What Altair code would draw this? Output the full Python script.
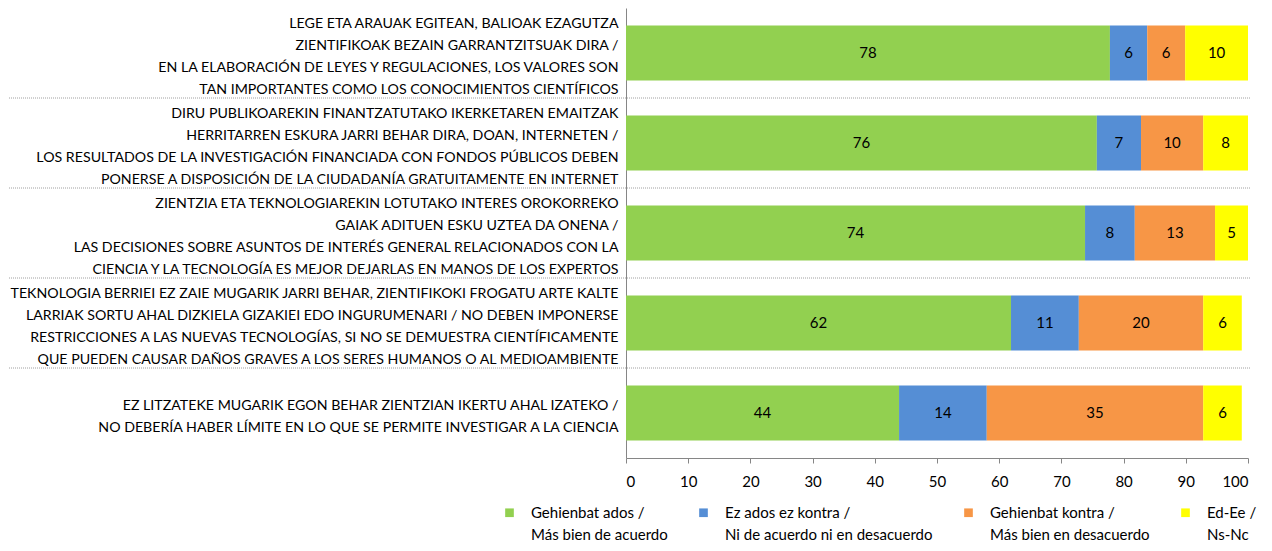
import altair as alt
import pandas as pd

statements = [
    ["LEGE ETA ARAUAK EGITEAN, BALIOAK EZAGUTZA",
     "ZIENTIFIKOAK BEZAIN GARRANTZITSUAK DIRA /",
     "EN LA ELABORACIÓN DE LEYES Y REGULACIONES, LOS VALORES SON",
     "TAN IMPORTANTES COMO LOS CONOCIMIENTOS CIENTÍFICOS"],
    ["DIRU PUBLIKOAREKIN FINANTZATUTAKO IKERKETAREN EMAITZAK",
     "HERRITARREN  ESKURA JARRI BEHAR DIRA, DOAN, INTERNETEN /",
     "LOS RESULTADOS DE LA INVESTIGACIÓN FINANCIADA CON FONDOS PÚBLICOS DEBEN",
     "PONERSE A DISPOSICIÓN DE LA CIUDADANÍA GRATUITAMENTE EN INTERNET"],
    ["ZIENTZIA ETA TEKNOLOGIAREKIN LOTUTAKO INTERES OROKORREKO",
     "GAIAK ADITUEN ESKU UZTEA DA ONENA /",
     "LAS DECISIONES SOBRE ASUNTOS DE INTERÉS GENERAL RELACIONADOS CON LA",
     "CIENCIA Y LA TECNOLOGÍA ES MEJOR DEJARLAS EN MANOS DE LOS EXPERTOS"],
    ["TEKNOLOGIA BERRIEI EZ ZAIE MUGARIK JARRI BEHAR, ZIENTIFIKOKI FROGATU ARTE KALTE",
     "LARRIAK SORTU AHAL DIZKIELA GIZAKIEI EDO INGURUMENARI / NO DEBEN IMPONERSE",
     "RESTRICCIONES A LAS NUEVAS TECNOLOGÍAS, SI NO SE DEMUESTRA CIENTÍFICAMENTE",
     "QUE PUEDEN CAUSAR DAÑOS GRAVES A LOS SERES HUMANOS O AL MEDIOAMBIENTE"],
    ["",
     "EZ LITZATEKE MUGARIK EGON BEHAR ZIENTZIAN IKERTU AHAL IZATEKO /",
     "NO DEBERÍA HABER LÍMITE EN LO QUE SE PERMITE INVESTIGAR A LA CIENCIA"],
]

categories = [
    ["Gehienbat ados /", "Más bien de acuerdo"],
    ["Ez ados ez kontra /", "Ni de acuerdo ni en desacuerdo"],
    ["Gehienbat kontra /", "Más bien en desacuerdo"],
    ["Ed-Ee /", "Ns-Nc"],
]
colors = ["#92D050", "#558ED5", "#F79646", "#FFFF00"]

green = [77.8, 75.7, 73.8, 61.9, 43.9]
blue = [6.0, 7.1, 8.0, 10.9, 14.1]
orange = [6.1, 10.0, 12.9, 20.0, 34.8]
yellow = [10.1, 7.2, 5.3, 6.2, 6.2]

green_lbl = [78, 76, 74, 62, 44]
blue_lbl = [6, 7, 8, 11, 14]
orange_lbl = [6, 10, 13, 20, 35]
yellow_lbl = [10, 8, 5, 6, 6]

series = [green, blue, orange, yellow]
series_lbl = [green_lbl, blue_lbl, orange_lbl, yellow_lbl]

stmt_keys = ["|".join(s) for s in statements]
cat_keys = ["|".join(c) for c in categories]

rows = []
for i, sk in enumerate(stmt_keys):
    start = 0.0
    for j, ck in enumerate(cat_keys):
        v = series[j][i]
        rows.append({"stmt": sk, "cat": ck, "order": j,
                     "start": start, "end": start + v,
                     "mid": start + v / 2, "label": str(series_lbl[j][i])})
        start += v
df = pd.DataFrame(rows)

sep_df = pd.DataFrame({"stmt": stmt_keys[:-1]})

FONT = "Lato"
FS = 14.2

y_enc = alt.Y("stmt:N", sort=stmt_keys, title=None,
              scale=alt.Scale(paddingInner=0.39, paddingOuter=0.195),
              axis=alt.Axis(labelExpr="split(datum.label, '|')",
                            labelLimit=0, labelFontSize=FS, labelLineHeight=22,
                            labelOffset=-29, labelBaseline="middle",
                            labelPadding=8, labelColor="#000000",
                            domainColor="#868686", ticks=False))

bars = alt.Chart(df).mark_bar().encode(
    y=y_enc,
    x=alt.X("start:Q", scale=alt.Scale(domain=[0, 100], nice=False), title=None,
            axis=alt.Axis(values=list(range(0, 101, 10)), grid=False,
                          tickSize=5, labelFontSize=15, labelPadding=11,
                          labelColor="#000000", domainColor="#868686",
                          tickColor="#868686")),
    x2="end:Q",
    color=alt.Color("cat:N", sort=cat_keys, title=None,
                    scale=alt.Scale(domain=cat_keys, range=colors),
                    legend=alt.Legend(orient="none", legendX=-124, legendY=497,
                                      direction="horizontal", columns=4,
                                      symbolType="square", symbolSize=75,
                                      symbolStrokeWidth=0, labelOffset=14,
                                      labelExpr="split(datum.label, '|')",
                                      labelFontSize=15,
                                      labelLimit=0, labelColor="#000000",
                                      columnPadding=28, labelBaseline="middle")),
)

texts = alt.Chart(df).mark_text(fontSize=15, color="#000000").encode(
    y=alt.Y("stmt:N", sort=stmt_keys),
    x="mid:Q",
    text="label:N",
)

seps = alt.Chart(sep_df).mark_rule(strokeDash=[1, 1], color="#A0A0A0",
                                   strokeWidth=1, yOffset=45).encode(
    y=alt.Y("stmt:N", sort=stmt_keys),
    x=alt.value(-617),
    x2=alt.value(625),
)

chart = alt.layer(bars, texts, seps).properties(
    width=622, height=450, padding=0
).configure(font=FONT, style={"guide-label": {"lineHeight": 22}}).configure_view(stroke=None)

chart.save("out.html", embed_options={"renderer": "svg", "actions": False})
